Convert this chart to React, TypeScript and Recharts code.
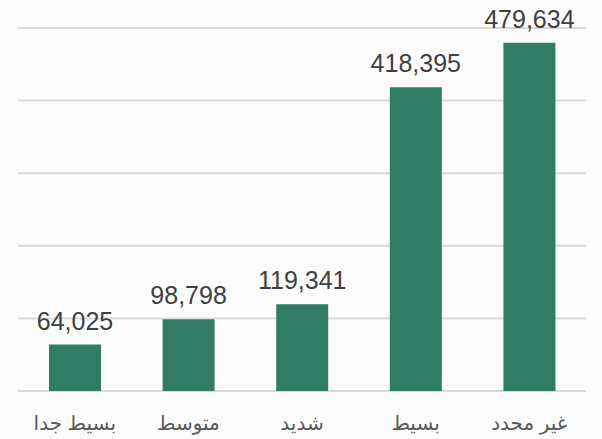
import { BarChart, Bar, XAxis, YAxis, CartesianGrid, LabelList } from "recharts";

const categories = ["بسيط جدا", "متوسط", "شديد", "بسيط", "غير محدد"];
const counts = [64025, 98798, 119341, 418395, 479634];
const yTicks = [0, 100000, 200000, 300000, 400000, 500000];

const data = categories.map((name, i) => ({ name, count: counts[i] }));

const FONT = "'Liberation Sans', Arial, 'DejaVu Sans', sans-serif";

export default function App() {
  return (
    <div
      style={{
        position: "absolute",
        left: 0,
        top: 0,
        width: 602,
        height: 439,
        background: "#fcfcfc",
        fontFamily: FONT,
      }}
    >
      <BarChart
        width={602}
        height={439}
        data={data}
        margin={{ top: 28, right: 16, left: 18, bottom: 0 }}
      >
        <CartesianGrid vertical={false} stroke="#d9d9d9" strokeWidth={2} />
        <YAxis hide domain={[0, 500000]} ticks={yTicks} />
        <XAxis
          dataKey="name"
          height={48}
          axisLine={false}
          tickLine={false}
          tickSize={0}
          tickMargin={25}
          interval={0}
          tick={{ fill: "#595959", fontSize: 20, fontFamily: FONT }}
        />
        <Bar dataKey="count" fill="#317c64" barSize={52} isAnimationActive={false}>
          <LabelList
            dataKey="count"
            position="top"
            offset={15}
            formatter={(v: number) => v.toLocaleString("en-US")}
            style={{ fill: "#404040", fontSize: 25, fontFamily: FONT }}
          />
        </Bar>
      </BarChart>
    </div>
  );
}
